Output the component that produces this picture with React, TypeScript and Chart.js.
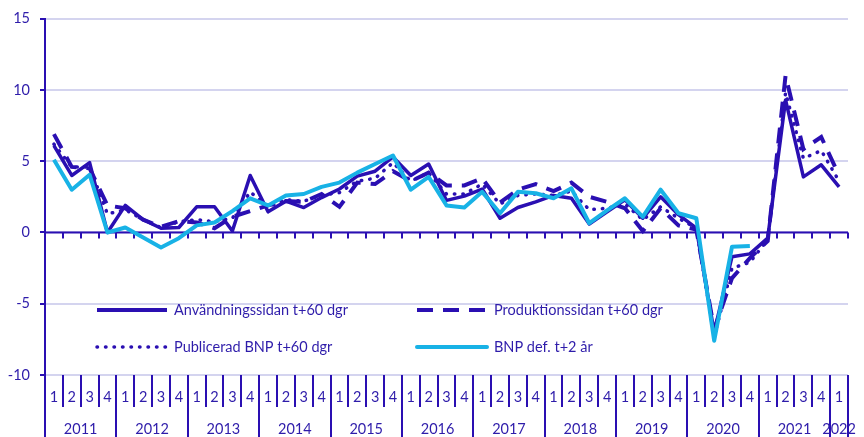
import React, { useEffect, useRef } from 'react';
import { Chart, registerables } from 'chart.js';

Chart.register(...registerables);

const yearLabels = ['2011', '2012', '2013', '2014', '2015', '2016', '2017', '2018', '2019', '2020', '2021', '2022'];
const quartersPerYear = [4, 4, 4, 4, 4, 4, 4, 4, 4, 4, 4, 1];
const quarterLabels: string[] = [];
quartersPerYear.forEach((n) => { for (let q = 1; q <= n; q++) quarterLabels.push(String(q)); });

const yTickMin = -10;
const yTickMax = 15;
const yTickStep = 5;

const seriesNames = [
  'Användningssidan t+60 dgr',
  'Produktionssidan t+60 dgr',
  'Publicerad BNP t+60 dgr',
  'BNP def. t+2 år',
];

const anvandning = [
  6.1, 4.0, 4.9, 0.0,
  1.9, 0.9, 0.3, 0.35,
  1.8, 1.8, 0.1, 4.0,
  1.45, 2.2, 1.75, 2.45,
  3.05, 3.95, 4.3, 5.3,
  4.0, 4.8, 2.25, 2.55,
  3.05, 1.0, 1.75, 2.15,
  2.6, 2.4, 0.6, 1.45,
  2.3, 1.0, 2.5, 1.25,
  0.3, -7.0, -1.7, -1.5,
  -0.4, 9.3, 3.9, 4.75,
  3.2,
];
const produktion = [
  6.9, 4.6, 4.5, 1.9,
  1.7, 0.9, 0.4, 0.8,
  0.7, 0.3, 1.1, 1.5,
  1.9, 2.2, 2.15, 2.7,
  1.8, 3.5, 3.4, 4.3,
  3.6, 4.2, 3.3, 3.3,
  3.8, 2.1, 3.0, 3.4,
  2.9, 3.5, 2.5, 2.15,
  1.7, 0.1, 1.7, 0.5,
  0.2, -6.8, -3.2, -1.8,
  -0.6, 11.0, 5.85, 6.7,
  4.0,
];
const publicerad = [
  6.2, 4.6, 4.6, 1.3,
  1.6, 0.9, 0.35, 0.75,
  0.9, 0.75, 1.0, 2.85,
  1.8, 2.3, 2.2, 2.6,
  2.8, 3.6, 3.8, 4.9,
  3.6, 4.2, 2.7, 2.7,
  3.4, 2.0, 2.6, 2.7,
  2.6, 2.9, 1.6, 1.7,
  2.0, 0.9, 1.8, 1.0,
  0.3, -7.3, -2.5, -2.1,
  -0.5, 9.8, 5.2, 5.75,
  3.6,
];
const bnpDef: (number | null)[] = [
  5.1, 3.0, 4.05, 0.0,
  0.35, -0.35, -1.05, -0.4,
  0.5, 0.7, 1.5, 2.4,
  1.9, 2.6, 2.7, 3.2,
  3.5, 4.2, 4.8, 5.4,
  3.0, 3.9, 1.9, 1.75,
  2.85, 1.35, 2.85, 2.75,
  2.4, 3.1, 0.65, 1.55,
  2.4, 1.1, 3.0, 1.35,
  1.0, -7.6, -1.0, -0.95,
  null, null, null, null,
  null,
];

const DARK = '#2A0FB2';
const TEXT = '#2E1CAA';
const LIGHT = '#18B2E6';
const GRID = '#D4D4EF';
const FONT = "Lato, 'Open Sans', sans-serif";
const FS = 14.5;

const DASH = [16, 10];
const DOT = [0.5, 8];

const decor = {
  id: 'decor',
  beforeDatasetsDraw(chart: any) {
    const { ctx, chartArea, scales } = chart;
    const { left, right } = chartArea;
    const y0 = scales.y.getPixelForValue(0);
    const n = quarterLabels.length;
    const w = (right - left) / n;
    ctx.save();
    ctx.strokeStyle = DARK;
    ctx.lineWidth = 2;
    ctx.beginPath();
    ctx.moveTo(left, y0);
    ctx.lineTo(right, y0);
    for (let i = 1; i <= n; i++) {
      const xx = Math.round(left + i * w);
      ctx.moveTo(xx, y0);
      ctx.lineTo(xx, y0 + 6);
    }
    ctx.stroke();
    ctx.restore();
  },
  afterDraw(chart: any) {
    const { ctx, chartArea, height } = chart;
    const { left, right, bottom } = chartArea;
    const n = quarterLabels.length;
    const w = (right - left) / n;
    ctx.save();
    ctx.strokeStyle = DARK;
    ctx.lineWidth = 2;
    ctx.fillStyle = TEXT;
    ctx.font = `${FS}px ${FONT}`;
    ctx.textAlign = 'center';
    ctx.textBaseline = 'middle';
    const yearStarts = new Set<number>();
    let idx = 0;
    yearStarts.add(0);
    quartersPerYear.forEach((c) => { idx += c; yearStarts.add(idx); });
    ctx.beginPath();
    for (let i = 0; i <= n; i++) {
      const xx = Math.round(left + i * w);
      ctx.moveTo(xx, bottom);
      ctx.lineTo(xx, yearStarts.has(i) ? height : bottom + 32);
    }
    ctx.stroke();
    for (let i = 0; i < n; i++) {
      ctx.fillText(quarterLabels[i], left + (i + 0.5) * w, bottom + 22);
    }
    let start = 0;
    yearLabels.forEach((yl, k) => {
      const c = quartersPerYear[k];
      ctx.fillText(yl, left + (start + c / 2) * w, bottom + 54);
      start += c;
    });
    const items = [
      { x: 97, y: 310, color: DARK, dash: [] as number[], lw: 4, cap: 'butt' },
      { x: 417, y: 310, color: DARK, dash: DASH, lw: 4, cap: 'butt' },
      { x: 97, y: 347, color: DARK, dash: DOT, lw: 3.5, cap: 'round' },
      { x: 417, y: 347, color: LIGHT, dash: [] as number[], lw: 4, cap: 'round' },
    ];
    items.forEach((it, k) => {
      ctx.save();
      ctx.strokeStyle = it.color;
      ctx.lineWidth = it.lw;
      ctx.lineCap = it.cap;
      ctx.setLineDash(it.dash);
      ctx.beginPath();
      ctx.moveTo(it.x, it.y);
      ctx.lineTo(it.x + 70, it.y);
      ctx.stroke();
      ctx.restore();
      ctx.textAlign = 'left';
      ctx.textBaseline = 'middle';
      ctx.fillStyle = TEXT;
      ctx.font = `${FS}px ${FONT}`;
      ctx.fillText(seriesNames[k], it.x + 77, it.y);
    });
    ctx.restore();
  },
};

export default function App() {
  const ref = useRef<HTMLCanvasElement>(null);
  useEffect(() => {
    if (!ref.current) return;
    Chart.defaults.font.family = FONT;
    const chart = new Chart(ref.current, {
      type: 'line',
      data: {
        labels: quarterLabels.map((q, i) => `${i}-${q}`),
        datasets: [
          {
            label: seriesNames[0], data: anvandning, borderColor: DARK, borderWidth: 3.5,
            order: 3, pointRadius: 0, tension: 0, borderJoinStyle: 'round',
          },
          {
            label: seriesNames[1], data: produktion, borderColor: DARK, borderWidth: 4,
            borderDash: DASH, order: 2, pointRadius: 0, tension: 0,
          },
          {
            label: seriesNames[2], data: publicerad, borderColor: DARK, borderWidth: 3.5,
            borderDash: DOT, borderCapStyle: 'round', order: 1, pointRadius: 0, tension: 0,
          },
          {
            label: seriesNames[3], data: bnpDef, borderColor: LIGHT, borderWidth: 4,
            order: 0, pointRadius: 0, tension: 0, spanGaps: false, borderJoinStyle: 'round',
          },
        ],
      },
      options: {
        animation: false,
        responsive: false,
        maintainAspectRatio: false,
        layout: { padding: { top: 15, right: 16, bottom: 62, left: 0 } },
        plugins: { legend: { display: false }, tooltip: { enabled: false } },
        scales: {
          x: { type: 'category', display: false, offset: true },
          y: {
            min: yTickMin,
            max: yTickMax,
            ticks: { stepSize: yTickStep, color: TEXT, font: { size: FS, family: FONT }, padding: 10 },
            grid: { color: GRID, lineWidth: 2, tickColor: DARK, tickLength: 5 },
            border: { color: DARK, width: 2 },
            afterFit: (s: any) => { s.width = 45; },
          },
        },
      },
      plugins: [decor],
    } as any);
    return () => chart.destroy();
  }, []);
  return (
    <div style={{ position: 'fixed', left: 0, top: 0, width: 864, height: 437, background: '#fff' }}>
      <canvas ref={ref} width={864} height={437} style={{ width: 864, height: 437 }} />
    </div>
  );
}
